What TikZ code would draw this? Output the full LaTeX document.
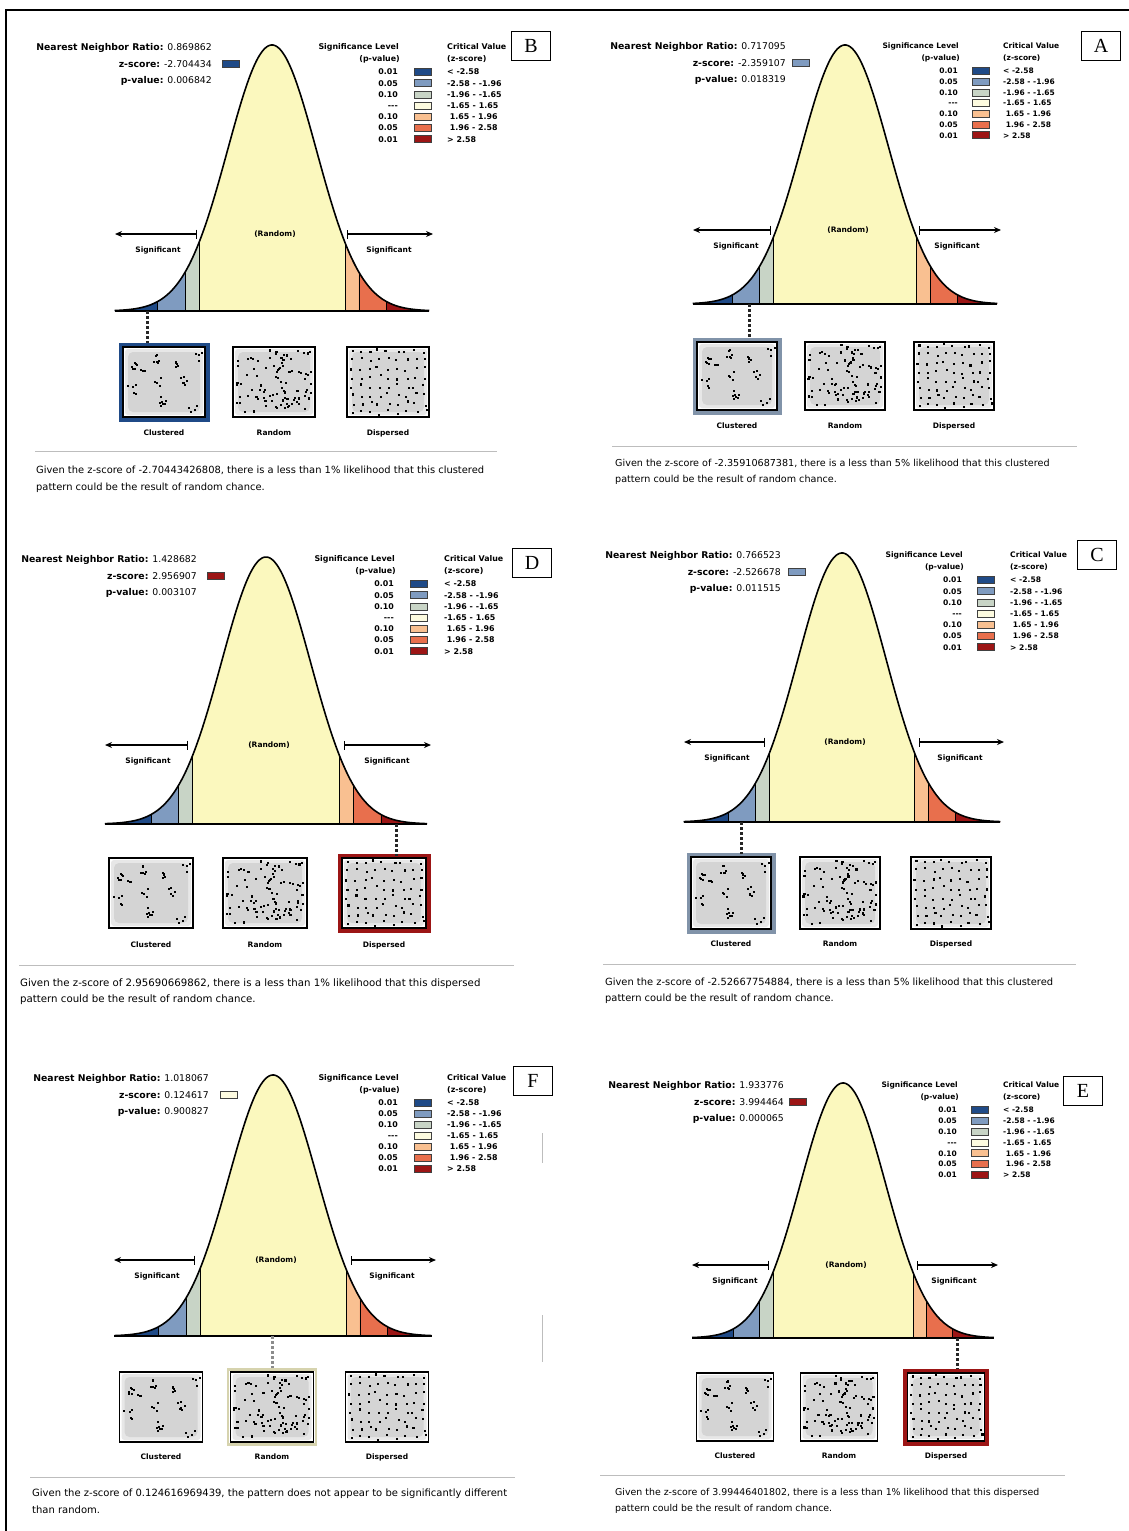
\documentclass[tikz,border=0pt]{standalone}
\usepackage{fontspec}
\setmainfont{DejaVu Sans}
\newfontfamily\letterfont{Liberation Serif}
\usetikzlibrary{arrows.meta}
\definecolor{zA}{HTML}{1F4A87}
\definecolor{zB}{HTML}{7F9BC0}
\definecolor{zC}{HTML}{C8D4C6}
\definecolor{zD}{HTML}{FDFBE0}
\definecolor{zM}{HTML}{FBF8BE}
\definecolor{zE}{HTML}{F9C091}
\definecolor{zF}{HTML}{E86F4D}
\definecolor{zG}{HTML}{9C1515}
\definecolor{selA}{HTML}{8193A9}
\definecolor{selFcol}{HTML}{D6D3AE}
\definecolor{sepgray}{HTML}{BDBDBD}
\definecolor{boxgray}{HTML}{D4D4D4}
\tikzset{
  hdr/.style={font=\fontsize{9.3}{10}\selectfont, inner sep=0, anchor=base east},
  leg/.style={font=\bfseries\fontsize{#1}{8}\selectfont, inner sep=0},
  leg/.default=7.8,
  sigl/.style={font=\bfseries\fontsize{7.5}{8}\selectfont, inner sep=0},
  plab/.style={font=\bfseries\fontsize{7.5}{8}\selectfont, inner sep=0},
  captxt/.style={font=\fontsize{#1}{12}\selectfont, inner sep=0, anchor=base west},
  captxt/.default=9.8,
  swatch/.style={draw=black!75, line width=0.6, fill=#1, minimum width=17pt, minimum height=7pt, inner sep=0},
  letterbox/.style={draw=black, line width=1, minimum width=39pt, minimum height=29pt, inner sep=0, font=\letterfont\fontsize{20}{20}\selectfont},
  sel/.style={draw=#1, line width=4},
  thinsel/.style={draw=#1, line width=2.5},
  nosel/.style={draw=none},
  sigarrow/.style={line width=1.2, {Bar[width=9pt,line width=1.2pt]}-{Stealth[length=7pt,width=6pt]}},
  dotl/.style={line width=3, dash pattern=on 2.6pt off 2.4pt, black!85},
  sepline/.style={sepgray, line width=1},
}
% ---------- header block: prefix, right x, first line y, ratio, z, p, swatch colour, swatch gap
\newcommand{\hdr}[8]{%
  \node[hdr] (#1r) at (#2,{#3+3.4}) {\textbf{Nearest Neighbor Ratio:} #4};
  \node[hdr] (#1z) at (#2,{#3+20.1}) {\textbf{z-score:} #5};
  \node[swatch=#7, anchor=west] (#1zs) at ({#2+#8},{#3+16.7}) {};
  \node[hdr] (#1p) at (#2,{#3+36.8}) {\textbf{p-value:} #6};
}
% ---------- legend block: prefix, col1 right x, title y, row step, font size, col2 offset
\newcommand{\legendblk}[6]{%
  \node[leg=#5, anchor=base east] (#1sl) at ({#2+1},{#3+2.8}) {Significance Level};
  \node[leg=#5, anchor=base east] (#1pv) at ({#2+2},{#3+14.8}) {(p-value)};
  \node[leg=#5, anchor=base west] (#1cv) at ({#2+#6},{#3+2.8}) {Critical Value};
  \node[leg=#5, anchor=base west] (#1zv) at ({#2+#6},{#3+14.8}) {(z-score)};
  \foreach \lab/\col/\rng [count=\i from 0] in {0.01/zA/{< -2.58}, 0.05/zB/{-2.58 - -1.96}, 0.10/zC/{-1.96 - -1.65}, {-{}-{}-}/zD/{-1.65 - 1.65}, 0.10/zE/{\ 1.65 - 1.96}, 0.05/zF/{\ 1.96 - 2.58}, 0.01/zG/{> 2.58}}{
    \node[leg=#5, anchor=base east] (#1l\i) at (#2,{#3+25+#4*\i+2.8}) {\lab};
    \node[swatch=\col] (#1s\i) at ({#2+#6/2},{#3+25+#4*\i}) {};
    \node[leg=#5, anchor=base west] (#1c\i) at ({#2+#6},{#3+25+#4*\i+2.8}) {\rng};
  }
}
% ---------- bell curve
\newcommand{\bandfill}[7]{%
  \fill[#5] plot[domain=#6:#7, samples=25] ({#1+#4*(\x)},{#2-#3*exp(-(\x)*(\x)/2)}) -- ({#1+#4*(#7)},#2) -- ({#1+#4*(#6)},#2) -- cycle;}
\newcommand{\bandline}[5]{%
  \draw[line width=0.6] ({#1+#4*(#5)},#2) -- ({#1+#4*(#5)},{#2-#3*exp(-(#5)*(#5)/2)});}
\newcommand{\bellcurve}[5]{%
  \bandfill{#1}{#2}{#3}{#4}{zA}{-#5}{-2.58}
  \bandfill{#1}{#2}{#3}{#4}{zB}{-2.58}{-1.96}
  \bandfill{#1}{#2}{#3}{#4}{zC}{-1.96}{-1.65}
  \bandfill{#1}{#2}{#3}{#4}{zM}{-1.65}{1.65}
  \bandfill{#1}{#2}{#3}{#4}{zE}{1.65}{1.96}
  \bandfill{#1}{#2}{#3}{#4}{zF}{1.96}{2.58}
  \bandfill{#1}{#2}{#3}{#4}{zG}{2.58}{#5}
  \foreach \zz in {-2.58,-1.96,-1.65,1.65,1.96,2.58}{\bandline{#1}{#2}{#3}{#4}{\zz}}
  \draw[line width=1.6, line join=round] plot[domain=-#5:#5, samples=140, smooth] ({#1+#4*(\x)},{#2-#3*exp(-(\x)*(\x)/2)});
  \draw[line width=1.6] ({#1-#4*#5},#2) -- ({#1+#4*#5},#2);
}
% ---------- arrows
\newcommand{\sigarrows}[5]{%
  \coordinate (#1al) at ({#2-#4},#3);
  \coordinate (#1ab) at ({#2-#5},#3);
  \coordinate (#1ar) at ({#2+#4+4},#3);
  \coordinate (#1abr) at ({#2+#5},#3);
  \draw[sigarrow] (#1ab) -- (#1al);
  \draw[sigarrow] (#1abr) -- (#1ar);
  \node[sigl] (#1sgl) at ({#2-#4+43},{#3+16}) {Significant};
  \node[sigl] (#1sgr) at ({#2+#4-40},{#3+16}) {Significant};
  \node[sigl] (#1rnd) at ({#2+3},#3) {(Random)};
}
% ---------- dot patterns
\newcommand{\dotsclu}[2]{%
  \foreach \u/\v/\n in {0.13/0.27/6, 0.21/0.32/3, 0.39/0.18/7, 0.64/0.23/5, 0.92/0.15/4, 0.11/0.61/5, 0.45/0.50/4, 0.74/0.49/6, 0.47/0.79/7, 0.86/0.86/4, 0.03/0.95/1}{
    \foreach \k in {1,...,\n}{
      \fill ({#1*(\u-0.5+0.055*rand)},{#2*(\v-0.5+0.07*rand)}) +(-1,-1) rectangle +(1,1);}}}
\newcommand{\dotsran}[2]{%
  \foreach \k in {1,...,95}{
    \fill ({#1*0.46*rand},{#2*0.45*rand}) +(-1.05,-1.05) rectangle +(1.05,1.05);}}
\newcommand{\dotsdis}[2]{%
  \foreach \i in {0,...,8}{\foreach \j in {0,...,7}{
    \fill ({#1*((\i+0.5+0.28*rand)/9-0.5)},{#2*((\j+0.5+0.28*rand)/8-0.5)}) +(-1.05,-1.05) rectangle +(1.05,1.05);}}}
% ---------- pattern box
\newcommand{\patbox}[9]{%
  \begin{scope}[shift={(#2,#3)}]
    \draw[#7] ({-#4/2-2.5},{-#5/2-2.5}) rectangle ({#4/2+2.5},{#5/2+2.5});
    \fill[white] ({-#4/2},{-#5/2}) rectangle ({#4/2},{#5/2});
    \fill[boxgray!55, rounded corners=3] ({-#4/2+2},{-#5/2+2}) rectangle ({#4/2-2},{#5/2-2});
    \fill[boxgray, rounded corners=5] ({-#4/2+5},{-#5/2+5}) rectangle ({#4/2-5},{#5/2-5});
    \pgfmathsetseed{11}
    \csname dots#6\endcsname{#4}{#5}
    \node[draw=black, line width=1.1, minimum width=#4pt, minimum height=#5pt, inner sep=0] (#1) at (0,0) {};
    \node[plab] (#1l) at (0,{#5/2+#9}) {#8};
  \end{scope}}
\begin{document}
\begin{tikzpicture}[x=1pt,y=-1pt]
\useasboundingbox (0,0) rectangle (1129,1531);
\fill[white] (0,0) rectangle (1129,1531);
\draw[line width=1.8] (1129,10) -- (6,10) -- (6,1531);

% ================= Panel B
\hdr{B}{212}{47}{0.869862}{-2.704434}{0.006842}{zA}{10}
\legendblk{B}{398}{47}{11.2}{7.9}{49}
\node[letterbox] (Blab) at (531,46) {B};
\bellcurve{272}{311}{266}{44.3}{3.55}
\sigarrows{B}{272}{234}{157}{75}
\patbox{Bc}{164}{382}{82}{70}{clu}{sel=zA}{Clustered}{16}
\patbox{Br}{274}{382}{82}{70}{ran}{nosel}{Random}{16}
\patbox{Bd}{388}{382}{82}{70}{dis}{nosel}{Dispersed}{16}
\coordinate (Bd1) at (147,311); \coordinate (Bd2) at (147,343);
\draw[dotl] (Bd1) -- (Bd2);
\draw[sepline] (35,451) -- (497,451);
\node[captxt=9.9] (Bcap1) at (36,473.5) {Given the z-score of -2.70443426808, there is a less than 1\% likelihood that this clustered};
\node[captxt=9.9] (Bcap2) at (36,490) {pattern could be the result of random chance.};

% ================= Panel A
\hdr{A}{786}{46}{0.717095}{-2.359107}{0.018319}{zB}{6}
\legendblk{A}{958}{46}{10.7}{7.5}{45}
\node[letterbox] (Alab) at (1101,46) {A};
\bellcurve{845}{304}{259}{43.5}{3.5}
\sigarrows{A}{845}{230}{152}{74}
\patbox{Ac}{737}{376}{80}{68}{clu}{sel=selA}{Clustered}{16}
\patbox{Ar}{845}{376}{80}{68}{ran}{nosel}{Random}{16}
\patbox{Ad}{954}{376}{80}{68}{dis}{nosel}{Dispersed}{16}
\coordinate (Ad1) at (749,304); \coordinate (Ad2) at (749,338);
\draw[dotl] (Ad1) -- (Ad2);
\draw[sepline] (612,446) -- (1077,446);
\node[captxt=9.6] (Acap1) at (615,466.5) {Given the z-score of -2.35910687381, there is a less than 5\% likelihood that this clustered};
\node[captxt=9.6] (Acap2) at (615,482.5) {pattern could be the result of random chance.};

% ================= Panel D
\hdr{D}{197}{559}{1.428682}{2.956907}{0.003107}{zG}{10}
\legendblk{D}{394}{559}{11.2}{7.9}{50}
\node[letterbox] (Dlab) at (532,563) {D};
\bellcurve{266}{824}{267}{44.5}{3.62}
\sigarrows{D}{266}{745}{161}{78}
\patbox{Dc}{151}{893}{84}{70}{clu}{nosel}{Clustered}{17}
\patbox{Dr}{265}{893}{84}{70}{ran}{nosel}{Random}{17}
\patbox{Dd}{384}{893}{84}{70}{dis}{sel=zG}{Dispersed}{17}
\coordinate (Dd1) at (396,824); \coordinate (Dd2) at (396,856);
\draw[dotl] (Dd1) -- (Dd2);
\draw[sepline] (19,965) -- (514,965);
\node[captxt=10.2] (Dcap1) at (20,986.5) {Given the z-score of 2.95690669862, there is a less than 1\% likelihood that this dispersed};
\node[captxt=10.2] (Dcap2) at (20,1002.5) {pattern could be the result of random chance.};

% ================= Panel C
\hdr{C}{781}{555}{0.766523}{-2.526678}{0.011515}{zB}{7}
\legendblk{C}{962}{555}{11.2}{7.6}{48}
\node[letterbox] (Clab) at (1097,555) {C};
\bellcurve{842}{822}{269}{44}{3.6}
\sigarrows{C}{842}{742}{158}{77}
\patbox{Cc}{731}{893}{80}{72}{clu}{sel=selA}{Clustered}{15}
\patbox{Cr}{840}{893}{80}{72}{ran}{nosel}{Random}{15}
\patbox{Cd}{951}{893}{80}{72}{dis}{nosel}{Dispersed}{15}
\coordinate (Cd1) at (741,822); \coordinate (Cd2) at (741,854);
\draw[dotl] (Cd1) -- (Cd2);
\draw[sepline] (603,964) -- (1076,964);
\node[captxt=9.9] (Ccap1) at (605,985.5) {Given the z-score of -2.52667754884, there is a less than 5\% likelihood that this clustered};
\node[captxt=9.9] (Ccap2) at (605,1001.5) {pattern could be the result of random chance.};

% ================= Panel F
\hdr{F}{209}{1078}{1.018067}{0.124617}{0.900827}{zD}{11}
\legendblk{F}{398}{1078}{11}{7.9}{49}
\node[letterbox] (Flab) at (533,1081) {F};
\bellcurve{273}{1336}{261}{44.3}{3.58}
\sigarrows{F}{273}{1260}{159}{78}
\patbox{Fc}{161}{1407}{83}{70}{clu}{nosel}{Clustered}{15}
\patbox{Fr}{272}{1407}{83}{70}{ran}{thinsel=selFcol}{Random}{15}
\patbox{Fd}{387}{1407}{83}{70}{dis}{nosel}{Dispersed}{15}
\coordinate (Fd1) at (272,1336); \coordinate (Fd2) at (272,1368);
\draw[dotl, black!45] (Fd1) -- (Fd2);
\draw[sepline] (30,1477) -- (515,1477);
\draw[sepline] (542,1133) -- (542,1163);
\draw[sepline] (542,1315) -- (542,1362);
\node[captxt=10] (Fcap1) at (32,1496.5) {Given the z-score of 0.124616969439, the pattern does not appear to be significantly different};
\node[captxt=10] (Fcap2) at (32,1513) {than random.};

% ================= Panel E
\hdr{E}{784}{1085}{1.933776}{3.994464}{0.000065}{zG}{5}
\legendblk{E}{957}{1085}{10.8}{7.5}{46}
\node[letterbox] (Elab) at (1083,1091) {E};
\bellcurve{843}{1338}{255}{42.5}{3.55}
\sigarrows{E}{843}{1265}{151}{74}
\patbox{Ec}{735}{1407}{77}{68}{clu}{nosel}{Clustered}{15}
\patbox{Er}{839}{1407}{77}{68}{ran}{nosel}{Random}{15}
\patbox{Ed}{946}{1407}{77}{68}{dis}{sel=zG}{Dispersed}{15}
\coordinate (Ed1) at (957,1338); \coordinate (Ed2) at (957,1369);
\draw[dotl] (Ed1) -- (Ed2);
\draw[sepline] (600,1475) -- (1065,1475);
\node[captxt=9.4] (Ecap1) at (615,1495.5) {Given the z-score of 3.99446401802, there is a less than 1\% likelihood that this dispersed};
\node[captxt=9.4] (Ecap2) at (615,1511) {pattern could be the result of random chance.};
\end{tikzpicture}
\end{document}
